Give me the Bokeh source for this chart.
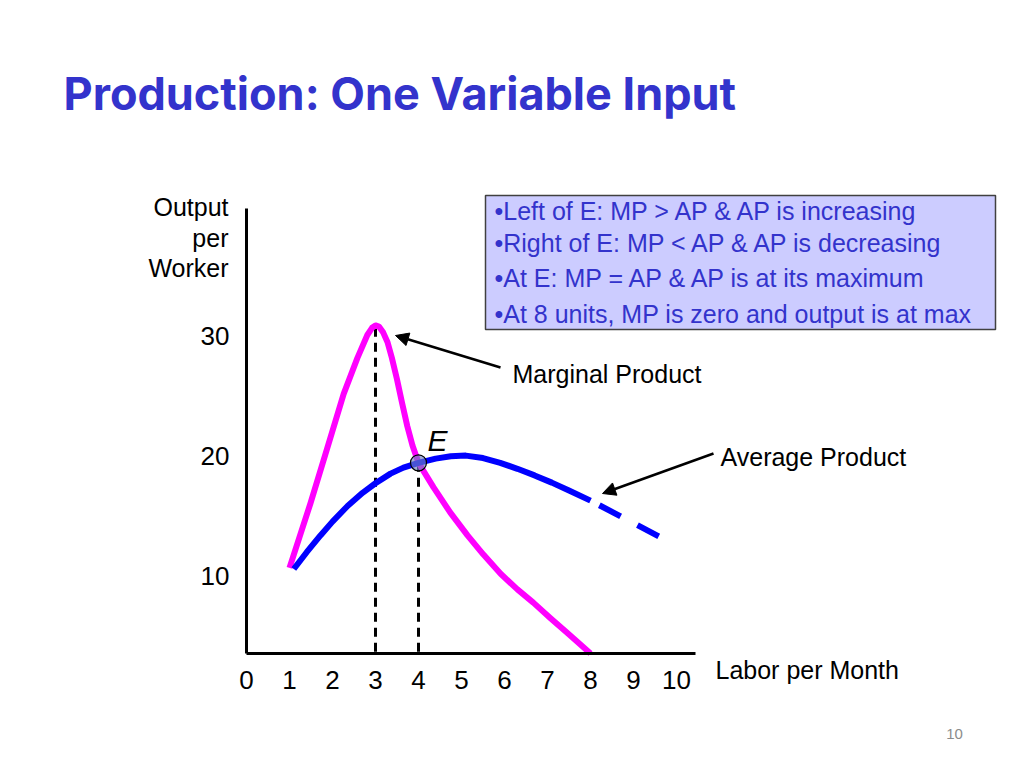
from bokeh.plotting import figure
from bokeh.models import Range1d, FixedTicker, Label, Arrow, NormalHead, BoxAnnotation
from bokeh.embed import file_html
from bokeh.resources import INLINE

# ---- data ----
labor_mp = [1.0, 1.49, 1.88, 2.26, 2.58, 2.81, 2.92, 3.0, 3.08, 3.18, 3.28, 3.38, 3.5, 3.62,
            3.74, 3.86, 4.0, 4.35, 4.74, 5.14, 5.51, 5.91, 6.30, 6.67, 7.07, 7.47, 8.0]
marginal_product = [10.7, 16.1, 20.7, 25.2, 28.2, 30.1, 30.7, 30.9, 30.8, 30.3, 29.5, 28.2, 26.4,
                    24.4, 22.5, 20.9, 19.45, 17.4, 15.3, 13.4, 11.8, 10.2, 8.9, 7.8, 6.5, 5.25,
                    3.56]
labor_ap = [1.1, 1.4, 1.72, 2.0, 2.35, 2.7, 3.0, 3.35, 3.65, 4.0, 4.4, 4.75, 5.1, 5.5, 5.9,
            6.3, 6.7, 7.1, 7.5, 8.0]
average_product = [10.6, 12.0, 13.4, 14.55, 15.85, 16.95, 17.75, 18.55, 19.05, 19.45, 19.8, 20.0,
                   20.05, 19.85, 19.45, 18.95, 18.4, 17.8, 17.15, 16.3]
labor_ap_proj = [8.0, 9.6]
average_product_proj = [16.3, 13.3]
labor_ref = [3.0, 4.0]          # MP maximum, point E
output_ref = [30.7, 19.45]
point_e = (4.0, 19.45)
x_ticks = [0, 1, 2, 3, 4, 5, 6, 7, 8, 9, 10]
y_ticks = [10, 20, 30]
x_axis_span = (0, 10.44)
y_axis_span = (3.56, 40.64)

title_text = "Production:  One Variable Input"
box_lines = ["\u2022Left of E: MP > AP & AP is increasing",
             "\u2022Right of E: MP < AP & AP is decreasing",
             "\u2022At E: MP = AP & AP is at its maximum",
             "\u2022At 8 units, MP is zero and output is at max"]

FONT = "Liberation Sans"
BLUE_TXT = "#3333cc"

W, H = 1008, 752
# slide-pixel geometry of the plotted area (layout only)
AX_LEFT_PX, AX_BOTTOM_PX = 246, 653
PX_X, PX_Y = 43.0, 12.0


def X(px):
    return x_axis_span[0] + (px - AX_LEFT_PX) / PX_X


def Y(py):
    return y_axis_span[0] + (AX_BOTTOM_PX - py) / PX_Y


p = figure(frame_width=W, frame_height=H,
           x_range=Range1d(X(0), X(W)), y_range=Range1d(Y(H), Y(0)),
           min_border=0, output_backend="svg", toolbar_location=None)
p.outline_line_color = None
p.grid.visible = False
p.background_fill_color = "white"
p.border_fill_color = "white"

p.xaxis.fixed_location = y_axis_span[0]
p.xaxis.bounds = x_axis_span
p.yaxis.fixed_location = x_axis_span[0]
p.yaxis.bounds = y_axis_span
for ax, ticks in ((p.xaxis, x_ticks), (p.yaxis, y_ticks)):
    ax.ticker = FixedTicker(ticks=ticks)
    ax.axis_line_width = 3
    ax.axis_line_color = "black"
    ax.major_tick_line_color = None
    ax.minor_tick_line_color = None
    ax.major_label_text_font = FONT
    ax.major_label_text_font_size = "26px"
    ax.major_label_text_color = "black"
p.xaxis.major_label_standoff = 11
p.yaxis.major_label_standoff = 11

# reference dashed lines
p.segment(x0=labor_ref, y0=output_ref, x1=labor_ref, y1=[y_axis_span[0]] * 2,
          line_color="black", line_width=3, line_dash="9 6")

# curves
p.line(labor_mp, marginal_product, line_color="#ff00ff", line_width=6, line_join="round")
p.line(labor_ap, average_product, line_color="#0000ff", line_width=6, line_join="round")
p.line(labor_ap_proj, average_product_proj, line_color="#0000ff", line_width=6,
       line_dash="24 19", line_dash_offset=33)

p.scatter([point_e[0]], [point_e[1]], size=16, fill_color="#6f7fc0", fill_alpha=0.65,
          line_color="black", line_width=1.2)


def text(txt, px, base_px, size, color="black", font=FONT, align="left", style="normal"):
    # Label anchored so that the text baseline sits at slide pixel row base_px
    p.add_layout(Label(x=X(px), y=Y(base_px - 0.4 * size), text=txt, text_font=font,
                       text_font_size=f"{size}px", text_font_style=style, text_color=color,
                       text_baseline="alphabetic", text_align=align))


# text box
p.add_layout(BoxAnnotation(left=X(485), right=X(995), top=Y(195), bottom=Y(329),
                           fill_color="#ccccff", fill_alpha=1.0,
                           line_color="#404040", line_alpha=1.0, line_width=1.5))
for txt, base in zip(box_lines, [220, 252, 287, 323]):
    text(txt, 494, base, 25, color=BLUE_TXT)

# annotations
text(title_text, 63, 111, 45, color=BLUE_TXT, font="Inter", style="bold")
for txt, base in zip(["Output", "per", "Worker"], [216, 247, 277]):
    text(txt, 228, base, 25, align="right")
text("Labor per Month", 715, 679, 25)
text("Marginal Product", 512, 383, 25)
text("Average Product", 720, 466, 25)
text("E", 427, 452, 30, style="italic")
text("10", 954, 739, 15, color="#8c8c8c", align="center")

p.add_layout(Arrow(end=NormalHead(size=13, fill_color="black", line_color="black"),
                   x_start=X(500), y_start=Y(367), x_end=X(395), y_end=Y(335),
                   line_width=2.5, line_color="black"))
p.add_layout(Arrow(end=NormalHead(size=13, fill_color="black", line_color="black"),
                   x_start=X(713), y_start=Y(453), x_end=X(602), y_end=Y(493),
                   line_width=2.5, line_color="black"))

open("out.html", "w").write(file_html(p, INLINE))
